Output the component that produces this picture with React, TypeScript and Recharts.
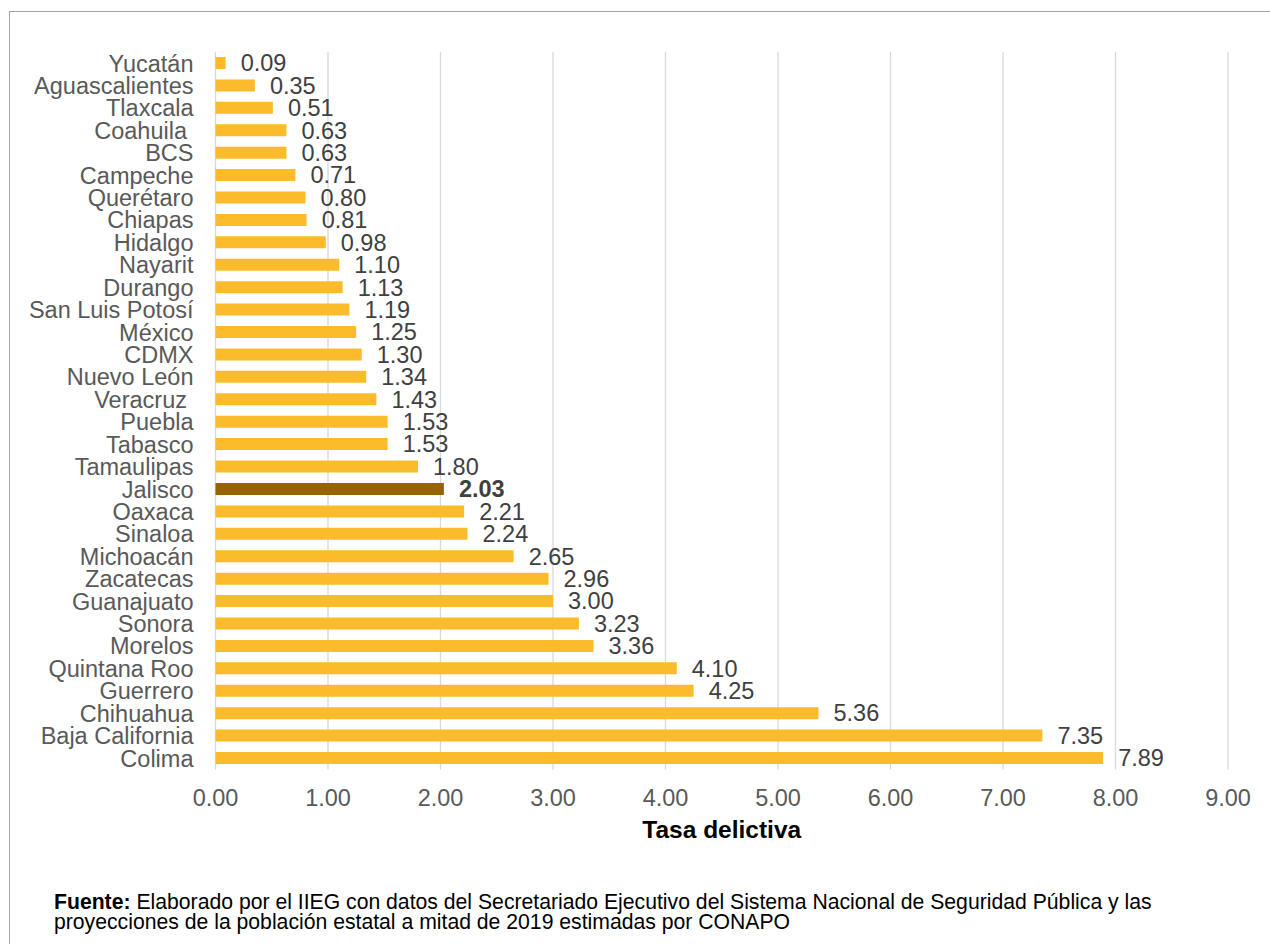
import React from 'react';
import { BarChart, Bar, XAxis, YAxis, CartesianGrid, Cell, LabelList, Label } from 'recharts';

const states: string[] = [
  'Yucatán', 'Aguascalientes', 'Tlaxcala', 'Coahuila\u00A0', 'BCS', 'Campeche', 'Querétaro', 'Chiapas',
  'Hidalgo', 'Nayarit', 'Durango', 'San Luis Potosí', 'México', 'CDMX', 'Nuevo León', 'Veracruz\u00A0',
  'Puebla', 'Tabasco', 'Tamaulipas', 'Jalisco', 'Oaxaca', 'Sinaloa', 'Michoacán', 'Zacatecas',
  'Guanajuato', 'Sonora', 'Morelos', 'Quintana Roo', 'Guerrero', 'Chihuahua', 'Baja California', 'Colima',
];

const rates: number[] = [
  0.09, 0.35, 0.51, 0.63, 0.63, 0.71, 0.80, 0.81,
  0.98, 1.10, 1.13, 1.19, 1.25, 1.30, 1.34, 1.43,
  1.53, 1.53, 1.80, 2.03, 2.21, 2.24, 2.65, 2.96,
  3.00, 3.23, 3.36, 4.10, 4.25, 5.36, 7.35, 7.89,
];

const xTicks: number[] = [0, 1, 2, 3, 4, 5, 6, 7, 8, 9];
const highlighted = 'Jalisco';
const axisTitle = 'Tasa delictiva';

const data = states.map((s, i) => ({ state: s, rate: rates[i] }));

const FONT = '"Liberation Sans", Arial, sans-serif';
const BAR = '#FBBB2A';
const BAR_HI = '#956300';

const renderValue = (props: any) => {
  const { x, y, width, height, value, index } = props;
  const bold = states[index] === highlighted;
  return (
    <text
      x={Number(x) + Number(width) + 15}
      y={Number(y) + Number(height) / 2}
      dy="0.355em"
      fontSize={23.5}
      fontFamily={FONT}
      fill="#404040"
      fontWeight={bold ? 'bold' : 'normal'}
      textAnchor="start"
    >
      {Number(value).toFixed(2)}
    </text>
  );
};

export default function App() {
  return (
    <div style={{ position: 'fixed', left: 0, top: 0, width: 1270, height: 944, overflow: 'hidden', background: '#fff', fontFamily: FONT }}>
      <div style={{ position: 'absolute', left: 9, top: 11, width: 1400, height: 1100, border: '1px solid #a6a6a6', boxSizing: 'border-box' }} />
      <div style={{ position: 'absolute', left: 0, top: 0 }}>
        <BarChart
          width={1270}
          height={860}
          data={data}
          layout="vertical"
          margin={{ top: 52, right: 42, left: 0, bottom: 10.6 }}
          barSize={12}
        >
          <CartesianGrid horizontal={false} vertical stroke="#d9d9d9" strokeWidth={1.3} />
          <XAxis
            type="number"
            domain={[0, 9]}
            ticks={xTicks}
            interval={0}
            tickFormatter={(v: number) => v.toFixed(2)}
            axisLine={false}
            tickLine={false}
            tickSize={0}
            tickMargin={20}
            height={80}
            tick={{ fontSize: 23.5, fill: '#595959', fontFamily: FONT }}
          >
            <Label
              value={axisTitle}
              position="insideBottom"
              offset={11}
              style={{ fontSize: 24.5, fontWeight: 'bold', fill: '#000', fontFamily: FONT }}
            />
          </XAxis>
          <YAxis
            type="category"
            dataKey="state"
            width={215.5}
            interval={0}
            axisLine={false}
            tickLine={false}
            tickSize={0}
            tickMargin={22}
            tick={{ fontSize: 23.5, fill: '#595959', fontFamily: FONT }}
          />
          <Bar dataKey="rate" isAnimationActive={false}>
            {data.map((d) => (
              <Cell key={d.state} fill={d.state === highlighted ? BAR_HI : BAR} />
            ))}
            <LabelList dataKey="rate" content={renderValue} />
          </Bar>
        </BarChart>
      </div>
      <div style={{ position: 'absolute', left: 54, top: 892, fontSize: 21.2, lineHeight: '20px', color: '#000', whiteSpace: 'nowrap' }}>
        <b>Fuente:</b> Elaborado por el IIEG con datos del Secretariado Ejecutivo del Sistema Nacional de Seguridad Pública y las
        <br />
        proyecciones de la población estatal a mitad de 2019 estimadas por CONAPO
      </div>
    </div>
  );
}
